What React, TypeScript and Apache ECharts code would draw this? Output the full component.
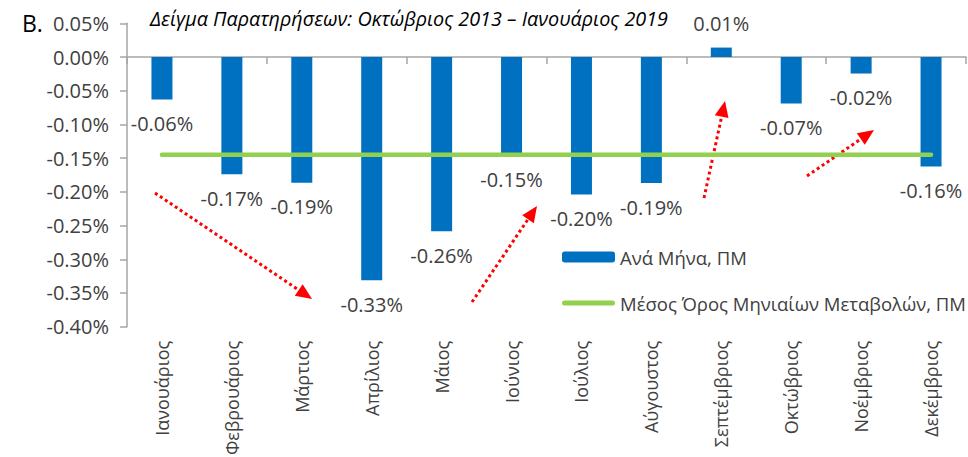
import React, { useEffect, useRef } from "react";
import * as echarts from "echarts";

const categories = [
  "Ιανουάριος",
  "Φεβρουάριος",
  "Μάρτιος",
  "Απρίλιος",
  "Μάιος",
  "Ιούνιος",
  "Ιούλιος",
  "Αύγουστος",
  "Σεπτέμβριος",
  "Οκτώβριος",
  "Νοέμβριος",
  "Δεκέμβριος",
];

// Monthly change, percent
const monthlyValues = [
  -0.063, -0.174, -0.1865, -0.331, -0.2585, -0.146, -0.204, -0.187, 0.014,
  -0.069, -0.0245, -0.1625,
];

// Average of monthly changes, percent
const averageValues = [
  -0.145, -0.145, -0.145, -0.145, -0.145, -0.145, -0.145, -0.145, -0.145,
  -0.145, -0.145, -0.145,
];

const seriesNames = ["Ανά Μήνα, ΠΜ", "Μέσος Όρος Μηνιαίων Μεταβολών, ΠΜ"];
const titleText = "Δείγμα Παρατηρήσεων: Οκτώβριος 2013 – Ιανουάριος 2019";
const panelLabel = "B.";

const FONT = "'Open Sans', 'Noto Sans', sans-serif";
const TEXT = "#404040";
const AXIS = "#A6A6A6";

function arrow(x1: number, y1: number, x2: number, y2: number) {
  const dx = x2 - x1;
  const dy = y2 - y1;
  const len = Math.sqrt(dx * dx + dy * dy);
  const ux = dx / len;
  const uy = dy / len;
  const headLen = 16;
  const headHalf = 7;
  const bx = x2 - ux * headLen;
  const by = y2 - uy * headLen;
  return [
    {
      type: "line",
      shape: { x1, y1, x2: bx, y2: by },
      style: { stroke: "#FF0000", lineWidth: 3, lineDash: [3, 3] },
      silent: true,
    },
    {
      type: "polygon",
      shape: {
        points: [
          [x2, y2],
          [bx - uy * headHalf, by + ux * headHalf],
          [bx + uy * headHalf, by - ux * headHalf],
        ],
      },
      style: { fill: "#FF0000" },
      silent: true,
    },
  ];
}

export default function App() {
  const ref = useRef<HTMLDivElement>(null);
  useEffect(() => {
    if (!ref.current) return;
    const chart = echarts.init(ref.current, undefined, { renderer: "svg" });
    const fmt = (v: number) => v.toFixed(2) + "%";
    chart.setOption({
      animation: false,
      grid: {
        left: 127,
        right: 2,
        top: 23.3,
        bottom: 130.3,
        containLabel: false,
        outerBoundsMode: "none",
      },
      legend: {
        orient: "vertical",
        left: 557,
        top: 242,
        itemWidth: 53,
        itemHeight: 11,
        itemGap: 26,
        textStyle: { fontFamily: FONT, fontSize: 18.5, color: TEXT, lineHeight: 20 },
        data: [
          { name: seriesNames[0] },
          {
            name: seriesNames[1],
            icon: "path://M2.5,0 L50.5,0 A2.5,2.5 0 0 1 50.5,5 L2.5,5 A2.5,2.5 0 0 1 2.5,0 Z",
          },
        ],
      },
      xAxis: [
        {
          type: "category",
          data: categories,
          position: "bottom",
          axisLine: { show: false, onZero: false },
          axisTick: { show: false },
          axisLabel: {
            rotate: 90,
            interval: 0,
            margin: 14,
            fontFamily: FONT,
            fontSize: 18,
            color: TEXT,
          },
        },
        {
          type: "category",
          data: categories,
          position: "bottom",
          axisLine: {
            show: true,
            onZero: true,
            onZeroAxisIndex: 0,
            lineStyle: { color: AXIS, width: 1.5 },
          },
          axisTick: { show: true, length: 7, lineStyle: { color: AXIS, width: 1.5 } },
          axisLabel: { show: false },
        },
      ],
      yAxis: {
        type: "value",
        min: -0.4,
        max: 0.05,
        interval: 0.05,
        axisLine: { show: true, lineStyle: { color: AXIS, width: 1.5 } },
        axisTick: { show: true, length: 7, lineStyle: { color: AXIS, width: 1.5 } },
        splitLine: { show: false },
        axisLabel: {
          formatter: (v: number) => fmt(v),
          margin: 18,
          fontFamily: FONT,
          fontSize: 20,
          color: TEXT,
        },
      },
      series: [
        {
          name: seriesNames[0],
          type: "bar",
          xAxisIndex: 0,
          barWidth: 21,
          itemStyle: { color: "#0070C0" },
          data: monthlyValues.map((v) => ({
            value: v,
            label: { position: v >= 0 ? "top" : "bottom" },
          })),
          label: {
            show: true,
            distance: 14,
            formatter: (p: any) => fmt(p.value),
            fontFamily: FONT,
            fontSize: 20,
            color: TEXT,
          },
        },
        {
          name: seriesNames[1],
          type: "line",
          xAxisIndex: 0,
          data: averageValues,
          symbol: "none",
          lineStyle: { color: "#92D050", width: 4.5, cap: "round" },
          itemStyle: { color: "#92D050" },
        },
      ],
      graphic: [
        {
          type: "text",
          left: 22,
          top: 11,
          style: { text: panelLabel, fontFamily: FONT, fontSize: 23, fill: "#000" },
          silent: true,
        },
        {
          type: "text",
          left: 150,
          top: 8,
          style: {
            text: titleText,
            fontFamily: FONT,
            fontSize: 19.8,
            fontStyle: "italic",
            fill: "#000",
          },
          silent: true,
        },
        ...arrow(155, 193, 312, 299),
        ...arrow(472, 302, 537, 206),
        ...arrow(704, 198, 725, 101),
        ...arrow(807, 176, 874, 130),
      ],
    });
    return () => chart.dispose();
  }, []);
  return (
    <div
      ref={ref}
      style={{ position: "absolute", left: 0, top: 0, width: 968, height: 457 }}
    />
  );
}
